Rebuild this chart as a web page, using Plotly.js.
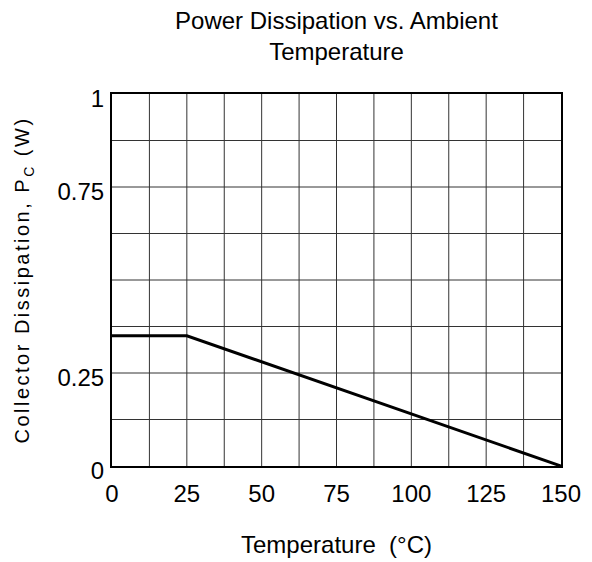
<!DOCTYPE html>
<html>
<head>
<meta charset="utf-8">
<script src="https://cdn.plot.ly/plotly-3.0.1.min.js"></script>
<style>
html,body{margin:0;padding:0;background:#fff;}
#chart{width:592px;height:562px;}
.ytitle{letter-spacing:2.5px;}
</style>
</head>
<body>
<div id="chart"></div>
<script>
// Data
const temperature = [0, 25, 150];
const dissipation = [0.35, 0.35, 0];
const xTickVals = [0, 25, 50, 75, 100, 125, 150];
const xTickText = ["0", "25", "50", "75", "100", "125", "150"];
const yTickVals = [0, 0.25, 0.75, 1];
const yTickText = ["0", "0.25", "0.75", "1"];
const xGridVals = [0, 12.5, 25, 37.5, 50, 62.5, 75, 87.5, 100, 112.5, 125, 137.5, 150];
const yGridVals = [0, 0.125, 0.25, 0.375, 0.5, 0.625, 0.75, 0.875, 1];

const font = "Liberation Sans, Arial, sans-serif";

const traces = [{
  x: temperature,
  y: dissipation,
  type: "scatter",
  mode: "lines",
  line: {color: "#000", width: 3},
  hoverinfo: "skip"
}];

const layout = {
  width: 592, height: 562,
  margin: {l: 112, r: 31, t: 94, b: 96},
  paper_bgcolor: "#fff",
  plot_bgcolor: "#fff",
  showlegend: false,
  font: {family: font, color: "#000", size: 24},
  title: {
    text: "Power Dissipation vs. Ambient<br>Temperature",
    font: {family: font, size: 24, color: "#000"},
    xref: "container", yref: "container",
    x: 0.5684, xanchor: "center",
    y: 0.949, yanchor: "middle"
  },
  xaxis: {
    range: [0, 150],
    tickmode: "array", tickvals: xTickVals, ticktext: xTickText,
    showgrid: false, zeroline: false,
    showline: true, linecolor: "#000", linewidth: 2, mirror: true,
    ticks: "", ticklabelstandoff: 5,
    tickfont: {family: font, size: 24, color: "#000"},
    title: {text: "Temperature&nbsp;&nbsp;(°C)", font: {family: font, size: 24, color: "#000"}, standoff: 30}
  },
  yaxis: {
    range: [0, 1],
    tickmode: "array", tickvals: yTickVals, ticktext: yTickText,
    showgrid: false, zeroline: false,
    showline: true, linecolor: "#000", linewidth: 2, mirror: true,
    ticks: "", ticklabelstandoff: 1, ticklabelshift: 5,
    tickfont: {family: font, size: 24, color: "#000"},
    title: {text: "Collector Dissipation, P<sub>C</sub> (W)", font: {family: font, size: 20, color: "#000"}, standoff: 22}
  },
  shapes: []
};

xGridVals.slice(1, -1).forEach(v => layout.shapes.push({
  type: "line", xref: "x", yref: "paper", x0: v, x1: v, y0: 0, y1: 1,
  line: {color: "#333", width: 1}, layer: "below"
}));
yGridVals.slice(1, -1).forEach(v => layout.shapes.push({
  type: "line", xref: "paper", yref: "y", x0: 0, x1: 1, y0: v, y1: v,
  line: {color: "#333", width: 1}, layer: "below"
}));

Plotly.newPlot("chart", traces, layout, {staticPlot: true, displayModeBar: false});
</script>
</body>
</html>
